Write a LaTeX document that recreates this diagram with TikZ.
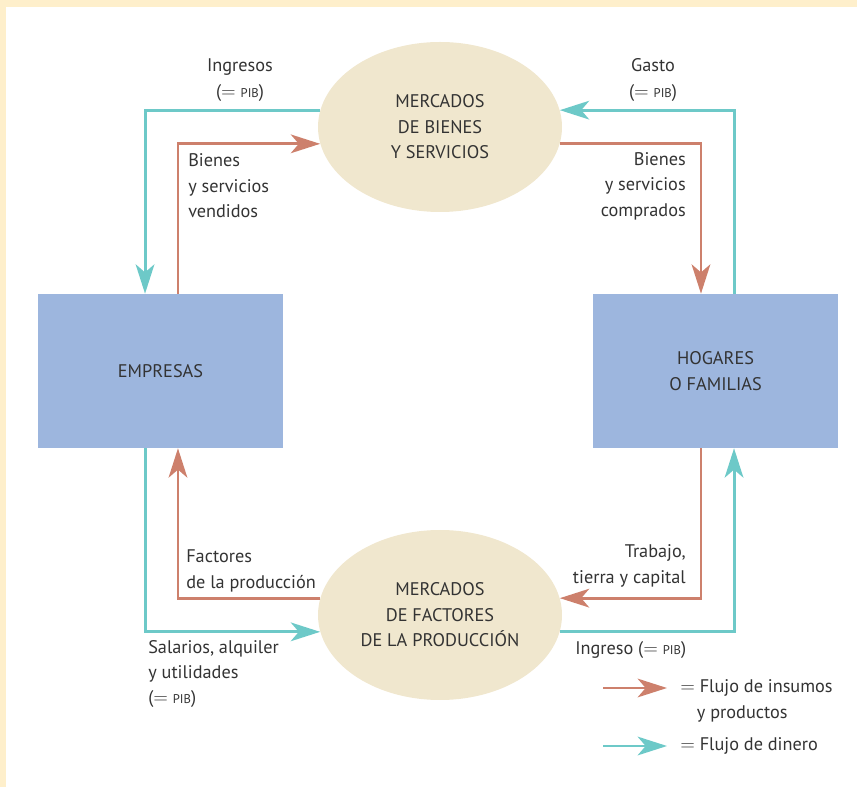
\documentclass[tikz,border=0pt]{standalone}
\usepackage{fontspec}
\setmainfont{PT Sans}
\usetikzlibrary{shapes.geometric,arrows.meta}
\definecolor{insumo}{HTML}{CD806C}
\definecolor{dinero}{HTML}{6DC9C8}
\definecolor{crema}{HTML}{F0E7CE}
\definecolor{azul}{HTML}{9DB6DE}
\definecolor{marco}{HTML}{FEEFCB}
\definecolor{texto}{HTML}{333333}
\newcommand{\pib}{{\fontsize{9.5}{10}\selectfont PIB}}
\newcommand{\igual}{$=$}

\begin{document}
\begin{tikzpicture}[x=0.75pt,y=-0.75pt,
    every node/.style={text=texto,font=\fontsize{13.7}{19.1}\selectfont,inner sep=0pt},
    mercado/.style={ellipse,fill=crema,minimum width=183pt,minimum height=127.5pt,align=center},
    sector/.style={rectangle,fill=azul,minimum width=183.75pt,minimum height=115.5pt,align=center},
    flujo/.style={line width=2.2pt,-{Stealth[length=22pt,width=14pt,inset=6pt]}},
    insumos/.style={flujo,color=insumo},
    dinero/.style={flujo,color=dinero}]
    \useasboundingbox (0,0) rectangle (857,787);
    \fill[marco] (0,0) rectangle (857,7);
    \fill[marco] (0,0) rectangle (6,787);

    \node[mercado] (mbs) at (440,127) {MERCADOS\\DE BIENES\\Y SERVICIOS};
    \node[mercado] (mfp) at (440,615) {MERCADOS\\DE FACTORES\\DE LA PRODUCCIÓN};
    \node[sector] (empresas) at (160.5,371) {EMPRESAS};
    \node[sector] (hogares) at (715.5,371) {HOGARES\\O FAMILIAS};

    \draw[dinero] (mbs.172) -| ([xshift=-11.6pt]empresas.north);
    \draw[insumos] ([xshift=13.1pt]empresas.north) |- (mbs.188);
    \draw[insumos] (mbs.-8) -| ([xshift=-10.9pt]hogares.north);
    \draw[dinero] ([xshift=13.9pt]hogares.north) |- (mbs.8);
    \draw[dinero] ([xshift=-11.6pt]empresas.south) |- (mfp.188);
    \draw[insumos] (mfp.172) -| ([xshift=13.1pt]empresas.south);
    \draw[insumos] ([xshift=-10.9pt]hogares.south) |- (mfp.8);
    \draw[dinero] (mfp.-8) -| ([xshift=13.9pt]hogares.south);

    \node[align=center] (ingresos) at (240,80) {Ingresos\\(\igual{} \pib)};
    \node[align=center] (gasto) at (653,80) {Gasto\\(\igual{} \pib)};
    \node[align=left,anchor=west] (vendidos) at (188,186) {Bienes\\y servicios\\vendidos};
    \node[align=right,anchor=east] (comprados) at (686,186) {Bienes\\y servicios\\comprados};
    \node[align=left,anchor=west] (factores) at (186,571) {Factores\\de la producción};
    \node[align=right,anchor=east] (trabajo) at (686,566) {Trabajo,\\tierra y capital};
    \node[align=left,anchor=west] (salarios) at (148,674) {Salarios, alquiler\\y utilidades\\(\igual{} \pib)};
    \node[anchor=west] (ingreso) at (575,650) {Ingreso (\igual{} \pib)};

    \coordinate (li) at (603,688);
    \coordinate (lf) at (667,688);
    \draw[insumos] (li) -- (lf);
    \node[align=left,anchor=west] (leyinsumos) at (680,701) {\igual{} Flujo de insumos\\\hspace*{12.5pt}y productos};
    \coordinate (di) at (603,746);
    \coordinate (df) at (667,746);
    \draw[dinero] (di) -- (df);
    \node[anchor=west] (leydinero) at (680,746) {\igual{} Flujo de dinero};
\end{tikzpicture}
\end{document}
